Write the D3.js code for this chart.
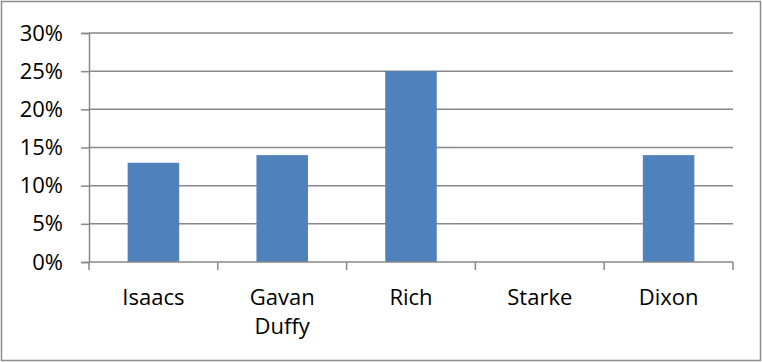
<!DOCTYPE html>
<html>
<head>
<meta charset="utf-8">
<script src="https://cdn.jsdelivr.net/npm/d3@7"></script>
<style>
  html, body { margin: 0; padding: 0; background: #fff; }
  svg { display: block; }
  text { font-family: "Open Sans", "Noto Sans", sans-serif; fill: #000; }
</style>
</head>
<body>
<svg id="chart" width="762" height="362"></svg>
<script>
// Share of votes per candidate
const categories = ["Isaacs", "Gavan Duffy", "Rich", "Starke", "Dixon"];
const values = [0.13, 0.14, 0.25, 0, 0.14];
const yTicks = [0, 0.05, 0.10, 0.15, 0.20, 0.25, 0.30];

const svg = d3.select("#chart");
const W = 762, H = 362;
const plotL = 89, plotR = 733, plotT = 33, plotB = 262;
const fontSize = 22;

// outer frame
svg.append("rect")
  .attr("x", 1.5).attr("y", 1.5)
  .attr("width", W - 3).attr("height", H - 3)
  .attr("fill", "#fff").attr("stroke", "#8c8c8c").attr("stroke-width", 1.5);

const x = d3.scaleBand().domain(categories).range([plotL, plotR]).padding(0);
const y = d3.scaleLinear().domain([0, 0.30]).range([plotB, plotT]);

// horizontal gridlines
svg.append("g").selectAll("line")
  .data(yTicks.slice(1))
  .join("line")
  .attr("x1", plotL).attr("x2", plotR)
  .attr("y1", d => y(d)).attr("y2", d => y(d))
  .attr("stroke", "#888").attr("stroke-width", 1.5);

// bars
const barW = x.bandwidth() * 0.4;
svg.append("g").selectAll("rect")
  .data(values)
  .join("rect")
  .attr("x", (d, i) => x(categories[i]) + (x.bandwidth() - barW) / 2)
  .attr("y", d => y(d))
  .attr("width", barW)
  .attr("height", d => y(0) - y(d))
  .attr("fill", "#4f81bd");

// y axis
const yAxis = d3.axisLeft(y).tickValues(yTicks).tickSize(8).tickPadding(18)
  .tickFormat(d3.format(".0%"));
const gy = svg.append("g").attr("transform", `translate(${plotL},0)`).call(yAxis)
  .attr("font-size", fontSize).attr("font-family", "Open Sans");
gy.select(".domain").attr("stroke", "#888").attr("stroke-width", 1.5);
gy.selectAll(".tick line").attr("stroke", "#888").attr("stroke-width", 1.5);
gy.selectAll(".tick text").attr("fill", "#000");

// x axis
const gx = svg.append("g").attr("transform", `translate(0,${plotB})`);
gx.append("line").attr("x1", plotL).attr("x2", plotR).attr("y1", 0).attr("y2", 0)
  .attr("stroke", "#888").attr("stroke-width", 1.5);
const bounds = categories.map(c => x(c)).concat([plotR]);
gx.selectAll("line.tk").data(bounds).join("line").attr("class", "tk")
  .attr("x1", d => d).attr("x2", d => d).attr("y1", 0).attr("y2", 8)
  .attr("stroke", "#888").attr("stroke-width", 1.5);

const labels = gx.selectAll("text.cat").data(categories).join("text").attr("class", "cat")
  .attr("text-anchor", "middle")
  .attr("font-size", fontSize)
  .attr("transform", d => `translate(${x(d) + x.bandwidth() / 2},0)`);
labels.each(function(d) {
  const words = d.split(" ");
  d3.select(this).selectAll("tspan").data(words).join("tspan")
    .attr("x", 0).attr("y", (w, i) => 43 + i * 29).text(w => w);
});
</script>
</body>
</html>
